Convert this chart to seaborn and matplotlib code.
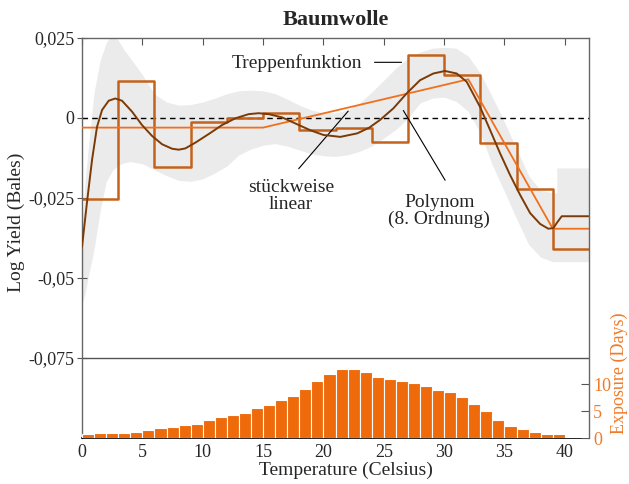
import matplotlib
matplotlib.use("Agg")
import matplotlib.pyplot as plt
import seaborn as sns
import numpy as np
import pandas as pd

# exposure (days per 1-degree bin, 0..41 C)
temps = np.arange(42)
exposure_days = [0.68, 0.93, 0.93, 0.93, 1.17, 1.54, 1.79, 2.1, 2.35, 2.65,
                 3.27, 3.83, 4.32, 4.69, 5.55, 6.1, 7.0, 7.8, 9.07, 10.55,
                 11.9, 12.8, 12.8, 12.2, 11.36, 11.05, 10.5, 10.2, 9.6, 9.0,
                 8.46, 7.65, 6.3, 5.0, 3.4, 2.3, 1.73, 1.1, 0.8, 0.8,
                 0.25, 0.25]

# step function (3-degree bins)
step_edges = [0, 3, 6, 9, 12, 15, 18, 21, 24, 27, 30, 33, 36, 39, 42]
step_values = [-0.0252, 0.0115, -0.0153, -0.0012, 0.0001, 0.0016, -0.0036,
               -0.0030, -0.0075, 0.0197, 0.0134, -0.0077, -0.0222, -0.0409]

# piecewise linear
linear_x = [0, 15, 32, 39, 42]
linear_y = [-0.0030, -0.0030, 0.0121, -0.0346, -0.0346]

# polynomial (8th order)
poly_x = [0, 0.41, 0.83, 1.24, 1.66, 2.21, 2.76, 3.31, 4.14, 4.97,
          5.8, 6.63, 7.46, 8.01, 8.56, 9.39, 10.5, 11.6, 12.7, 13.8,
          14.64, 15.47, 16.57, 17.67, 18.9, 20.0, 21.4, 22.8, 23.8, 24.69,
          25.79, 26.9, 28.0, 29.1, 30.07, 31.04, 31.87, 32.97, 33.8, 34.63,
          35.46, 36.29, 37.12, 37.95, 38.63, 39.05, 39.33, 39.74, 42]
poly_y = [-0.0402, -0.0264, -0.0131, -0.0028, 0.0025, 0.0054, 0.0061, 0.0054,
          0.0020, -0.0022, -0.0056, -0.0082, -0.0096, -0.0099, -0.0095, -0.0077,
          -0.0050, -0.0022, -0.0001, 0.0012, 0.0015, 0.0012, 0.0002, -0.0017,
          -0.0038, -0.0053, -0.0059, -0.0048, -0.0030, -0.0006, 0.0030, 0.0077,
          0.0118, 0.0139, 0.0147, 0.0139, 0.0113, 0.0035, -0.0037, -0.0110,
          -0.0178, -0.0240, -0.0297, -0.0331, -0.0346, -0.0344, -0.0328,
          -0.0307, -0.0307]

# confidence band
band_x = [0, 0.25, 0.5, 0.75, 1, 1.5, 2, 2.5, 3, 3.5, 4, 5, 6, 7, 8, 9, 10,
          11, 12, 13, 14, 15, 16, 17, 18, 19, 20, 21, 22, 23, 24, 25, 26, 27,
          28, 29, 30, 31, 32, 33, 34, 35, 36, 37, 38, 39, 39.33, 39.33, 42]
band_upper = [-0.0340, -0.0200, -0.0100, -0.0010, 0.0080, 0.0180, 0.0235,
              0.0262, 0.0243, 0.0212, 0.0187, 0.0135, 0.0075, 0.0050, 0.0040,
              0.0042, 0.0050, 0.0062, 0.0076, 0.0085, 0.0087, 0.0085, 0.0076,
              0.0059, 0.0040, 0.0025, 0.0016, 0.0016, 0.0025, 0.0047, 0.0081,
              0.0118, 0.0156, 0.0187, 0.0206, 0.0218, 0.0221, 0.0218, 0.0193,
              0.0140, 0.0065, -0.0013, -0.0097, -0.0180, -0.0226, -0.0234,
              -0.0234, -0.0156, -0.0156]
band_lower = [-0.0580, -0.0550, -0.0500, -0.0455, -0.0410, -0.0290, -0.0200,
              -0.0165, -0.0147, -0.0140, -0.0136, -0.0143, -0.0162, -0.0180,
              -0.0195, -0.0198, -0.0190, -0.0172, -0.0150, -0.0115, -0.0097,
              -0.0085, -0.0080, -0.0088, -0.0100, -0.0112, -0.0118, -0.0120,
              -0.0115, -0.0104, -0.0088, -0.0063, -0.0036, -0.0001, 0.0047,
              0.0062, 0.0065, 0.0052, 0.0020, -0.0047, -0.0148, -0.0230,
              -0.0315, -0.0395, -0.0435, -0.0449, -0.0449, -0.0449, -0.0449]

yticks = [-0.075, -0.05, -0.025, 0, 0.025]
ytick_labels = ["-0,075", "-0,05", "-0,025", "0", "0,025"]

sns.set_style("ticks")
plt.rcParams["font.family"] = ["Liberation Serif", "DejaVu Serif"]

exposure = pd.DataFrame({"temp": temps, "days": exposure_days})

orange = "#f07a28"
fig = plt.figure(figsize=(6.29, 4.84), dpi=100)
ax = fig.add_axes([0.1304, 0.095, 0.806, 0.8265])
ax2 = ax.twinx()

# upper panel
ax.fill_between(band_x, band_lower, band_upper, color="#ebebeb", lw=0, zorder=0.5)
ax.axhline(0, color="black", ls="--", lw=1, dashes=(4, 3), zorder=1)
ax.axhline(-0.075, color="#555555", lw=1, zorder=1)
sns.lineplot(x=step_edges, y=step_values + [step_values[-1]], drawstyle="steps-post",
             color="#c4621c", lw=1.8, ax=ax, zorder=2)
sns.lineplot(x=linear_x, y=linear_y, color="#f0701e", lw=1.3, ax=ax, zorder=3)
sns.lineplot(x=poly_x, y=poly_y, color="#7b3a06", lw=1.4, sort=False,
             estimator=None, ax=ax, zorder=4)

# annotations
ax.text(23.2, 0.0172, "Treppenfunktion", ha="right", va="center", fontsize=14)
ax.annotate("", xy=(26.7, 0.0174), xytext=(24.0, 0.0174),
            arrowprops=dict(arrowstyle="-", color="black", lw=0.8))
ax.text(17.3, -0.0243, "stückweise\nlinear", ha="center", va="center",
        fontsize=14, linespacing=1.0)
ax.annotate("", xy=(22.2, 0.0028), xytext=(17.8, -0.0165),
            arrowprops=dict(arrowstyle="-", color="black", lw=0.8))
ax.text(29.6, -0.0290, "Polynom\n(8. Ordnung)", ha="center", va="center",
        fontsize=14, linespacing=1.0)
ax.annotate("", xy=(26.5, 0.0031), xytext=(30.2, -0.0202),
            arrowprops=dict(arrowstyle="-", color="black", lw=0.8))

# exposure histogram
sns.histplot(data=exposure, x="temp", weights="days", binwidth=1, binrange=(0, 42),
             color="#ee6a0a", edgecolor="white", linewidth=0.8, alpha=1, ax=ax2)
ax2.set_ylim(0, 74.3)
ax2.set_yticks([0, 5, 10])
ax2.set_ylabel("")
ax2.tick_params(axis="y", direction="in", length=6, width=0.8, color="#555555",
                labelcolor=orange, labelsize=13, pad=3)

ax.set_xlim(0, 42)
ax.set_ylim(-0.1, 0.025)
ax.set_yticks(yticks)
ax.set_yticklabels(ytick_labels)
ax.set_xticks(range(0, 41, 5))
ax.set_xlabel("")
ax.set_ylabel("")
ax2.set_xlabel("")
ax.tick_params(axis="y", direction="inout", length=7, width=0.8, color="#555555",
               labelsize=13, pad=2)
ax.tick_params(axis="x", bottom=False, top=True, direction="in", length=5,
               width=0.8, color="#555555", labelsize=13, labelbottom=True, pad=4)

for name in ["left", "top"]:
    ax.spines[name].set_color("#666666")
    ax.spines[name].set_linewidth(1)
ax.spines["right"].set_visible(False)
ax.spines["bottom"].set_color("black")
ax.spines["bottom"].set_linewidth(1.2)
for name in ["left", "top", "bottom"]:
    ax2.spines[name].set_visible(False)
ax2.spines["right"].set_color("#666666")
ax2.spines["right"].set_linewidth(1)

fig.text(0.5335, 0.959, "Baumwolle", ha="center", va="center", fontsize=16,
         fontweight="bold")
fig.text(0.55, 0.029, "Temperature (Celsius)", ha="center", va="center", fontsize=14)
fig.text(0.0254, 0.541, "Log Yield (Bales)", ha="center", va="center",
         rotation=90, fontsize=14)
fig.text(0.984, 0.228, "Exposure (Days)", ha="center", va="center",
         rotation=90, fontsize=13, color=orange)

fig.savefig("out.png", dpi=100)
